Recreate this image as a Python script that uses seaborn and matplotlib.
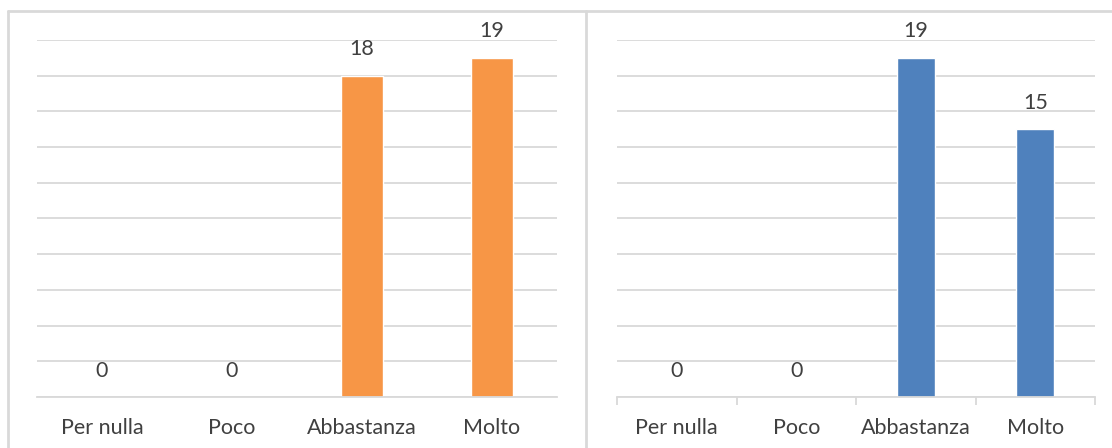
import matplotlib
matplotlib.use("Agg")
import matplotlib.pyplot as plt
from matplotlib.lines import Line2D
import seaborn as sns
import pandas as pd

categories = ["Per nulla", "Poco", "Abbastanza", "Molto"]
values_left = [0, 0, 18, 19]
values_right = [0, 0, 19, 15]
y_ticks = list(range(0, 21, 2))

ORANGE = "#F79646"
BLUE = "#4F81BD"
GRID = "#D9D9D9"
TEXT = "#404040"

sns.set_theme(style="white")
plt.rcParams["font.family"] = ["Lato", "DejaVu Sans"]

fig = plt.figure(figsize=(11.12, 4.48), dpi=100)
W, H = 1112, 448


def px_axes(x0, x1, ytop, ybot):
    return fig.add_axes([x0 / W, 1 - ybot / H, (x1 - x0) / W, (ybot - ytop) / H])


def draw_panel(ax, values, color, bottom_ticks):
    df = pd.DataFrame({"cat": categories, "val": values})
    sns.barplot(data=df, x="cat", y="val", color=color, width=0.32,
                saturation=1, ax=ax, order=categories)
    ax.set_xlim(-0.5, len(categories) - 0.5)
    ax.set_ylim(0, 20)
    ax.set_yticks(y_ticks)
    ax.set_yticklabels([])
    ax.tick_params(axis="y", length=0)
    ax.grid(axis="y", color=GRID, linewidth=1.3)
    ax.set_axisbelow(True)
    for side in ("left", "right", "top"):
        ax.spines[side].set_visible(False)
    ax.spines["bottom"].set_color(GRID)
    ax.spines["bottom"].set_linewidth(1.3)
    ax.set_xlabel("")
    ax.set_ylabel("")
    ax.set_xticks(range(len(categories)))
    ax.set_xticklabels(categories, fontsize=15.5, color=TEXT)
    ax.tick_params(axis="x", length=0, pad=15)
    if bottom_ticks:
        ax.set_xticks([i - 0.5 for i in range(len(categories) + 1)], minor=True)
        ax.tick_params(axis="x", which="minor", length=6, width=1.3,
                       color=GRID, direction="out", bottom=True)
    for i, v in enumerate(values):
        ax.annotate(f"{v}", (i, v), xytext=(0, 19), textcoords="offset points",
                    ha="center", va="center", fontsize=15.5, color=TEXT)


ax_l = px_axes(37, 557, 40, 397)
draw_panel(ax_l, values_left, ORANGE, bottom_ticks=False)

ax_r = px_axes(617, 1095, 40, 397)
draw_panel(ax_r, values_right, BLUE, bottom_ticks=True)

# chart frames
frame_kw = dict(color=GRID, linewidth=2, transform=fig.transFigure)
fig.add_artist(Line2D([8 / W, 8 / W], [0, 1 - 11 / H], **frame_kw))
fig.add_artist(Line2D([8 / W, 1], [1 - 11 / H, 1 - 11 / H], **frame_kw))
fig.add_artist(Line2D([586 / W, 586 / W], [0, 1 - 11 / H], **frame_kw))

fig.savefig("out.png", dpi=100, facecolor="white")
